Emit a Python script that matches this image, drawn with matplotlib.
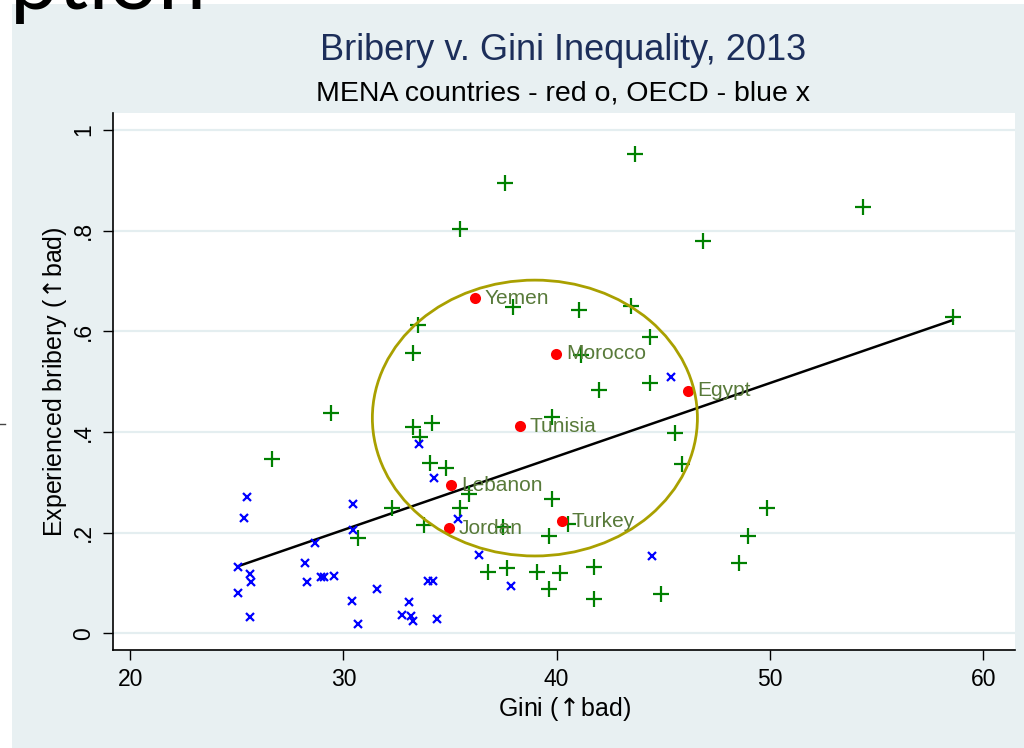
import matplotlib
matplotlib.use("Agg")
import matplotlib.pyplot as plt
from matplotlib.patches import Ellipse, Rectangle
from matplotlib.lines import Line2D

plt.rcParams['font.family'] = ['Liberation Sans', 'DejaVu Sans']
plt.rcParams['mathtext.fontset'] = 'dejavusans'

# ---- data ----
mena_names = ["Yemen", "Morocco", "Egypt", "Tunisia", "Lebanon", "Jordan", "Turkey"]
mena_gini = [36.18, 39.98, 46.15, 38.26, 35.05, 34.94, 40.26]
mena_bribe = [0.666, 0.556, 0.482, 0.412, 0.294, 0.209, 0.223]

oecd_gini = [45.38, 33.57, 34.27, 35.36, 36.38, 44.48, 37.88, 33.96, 34.19, 33.07,
             32.76, 33.18, 33.25, 34.38, 25.47, 25.36, 30.47, 30.47, 28.68, 25.08,
             28.18, 25.60, 25.68, 28.96, 29.11, 29.58, 28.28, 25.08, 31.57, 30.39,
             25.60, 30.67]
oecd_bribe = [0.510, 0.376, 0.308, 0.227, 0.155, 0.154, 0.095, 0.105, 0.105, 0.062,
              0.037, 0.035, 0.024, 0.029, 0.272, 0.229, 0.257, 0.206, 0.179, 0.133,
              0.141, 0.118, 0.103, 0.113, 0.113, 0.115, 0.102, 0.080, 0.088, 0.065,
              0.032, 0.018]

other_gini = [43.69, 37.60, 35.49, 54.38, 46.88, 58.57, 37.94, 41.07, 43.49, 33.49,
              44.38, 33.25, 41.15, 44.38, 41.97, 39.77, 33.25, 34.16, 33.60, 45.57,
              34.08, 34.79, 45.87, 35.88, 39.77, 32.27, 35.48, 33.76, 37.47, 40.52,
              39.66, 36.77, 37.66, 39.08, 40.18, 41.77, 39.66, 41.77, 44.87, 26.66,
              30.67, 49.87, 48.96, 48.57, 29.40]
other_bribe = [0.952, 0.895, 0.803, 0.847, 0.780, 0.629, 0.649, 0.642, 0.651, 0.613,
               0.589, 0.557, 0.553, 0.498, 0.484, 0.431, 0.411, 0.419, 0.390, 0.399,
               0.338, 0.328, 0.337, 0.277, 0.267, 0.249, 0.249, 0.216, 0.211, 0.217,
               0.194, 0.122, 0.131, 0.123, 0.121, 0.133, 0.088, 0.068, 0.078, 0.346,
               0.189, 0.249, 0.194, 0.141, 0.438]

fit_intercept = -0.232
fit_slope = 0.01459
fit_range = [25.08, 58.57]

ellipse_center = (38.98, 0.428)
ellipse_size = (15.24, 0.548)

x_ticks = [20, 30, 40, 50, 60]
y_ticks = [0, 0.2, 0.4, 0.6, 0.8, 1.0]
y_ticklabels = ["0", ".2", ".4", ".6", ".8", "1"]

title = "Bribery v. Gini Inequality, 2013"
subtitle = "MENA countries - red o, OECD - blue x"
xlabel = "Gini ($\\!\\uparrow\\!$bad)"
ylabel = "Experienced bribery ($\\!\\uparrow\\!$bad)"

# ---- figure ----
W, H = 1024, 748
fig = plt.figure(figsize=(W / 100, H / 100), dpi=100, facecolor='white')
bg = '#E8F0F2'
fig.add_artist(Rectangle((12 / W, 0), 1 - 12 / W, 1 - 4 / H, transform=fig.transFigure,
                         facecolor=bg, edgecolor='none', zorder=-10))
fig.text(10 / W, 1 - 9 / H, "ption", fontsize=62, family='Lato', color='black',
         ha='left', va='baseline')
fig.add_artist(Line2D([0, 5 / W], [1 - 424 / H, 1 - 424 / H], transform=fig.transFigure,
                      color='#444444', lw=1))

ax = fig.add_axes([113 / W, 1 - 650 / H, (1015 - 113) / W, (650 - 113) / H])
ax.set_facecolor('white')
ax.set_xlim(19.2, 61.49)
ax.set_ylim(-0.0328, 1.034)

for s in ['top', 'right']:
    ax.spines[s].set_visible(False)
for s in ['left', 'bottom']:
    ax.spines[s].set_color('black')
    ax.spines[s].set_linewidth(1.2)

ax.set_yticks(y_ticks)
ax.set_yticklabels(y_ticklabels, rotation=90, va='center')
ax.set_xticks(x_ticks)
ax.tick_params(axis='both', direction='out', length=7, width=1, labelsize=16.5, colors='black')
ax.tick_params(axis='x', pad=6)
ax.tick_params(axis='y', pad=6)
ax.yaxis.grid(True, color='#E4EEF0', lw=1.6)
ax.set_axisbelow(True)

# regression line
xs = fit_range
ys = [fit_intercept + fit_slope * x for x in xs]
ax.plot(xs, ys, color='black', lw=1.8, zorder=3)

ax.plot(other_gini, other_bribe, linestyle='none', marker='+', color='#008000',
        markersize=11, mew=1.6, zorder=4)
ax.plot(oecd_gini, oecd_bribe, linestyle='none', marker='x', color='#0000FF',
        markersize=6, mew=1.6, zorder=4)
ax.plot(mena_gini, mena_bribe, linestyle='none', marker='o', color='#FF0000',
        markersize=8, mew=0, zorder=5)
for n, x, y in zip(mena_names, mena_gini, mena_bribe):
    ax.annotate(n, (x, y), xytext=(7, 0), textcoords='offset points', ha='left',
                va='center', fontsize=15, color='#587A3A', zorder=6)

ax.add_patch(Ellipse(ellipse_center, ellipse_size[0], ellipse_size[1], fill=False,
                     edgecolor='#A9A000', lw=2, zorder=6))

ax.set_xlabel(xlabel, fontsize=18, labelpad=3)
ax.set_ylabel(ylabel, fontsize=18, labelpad=2)

fig.text(563 / W, 1 - 50 / H, title, fontsize=26, color='#1C2E5A', ha='center', va='center')
fig.text(563 / W, 1 - 93 / H, subtitle, fontsize=20.5, color='black', ha='center', va='center')

fig.savefig("out.png", dpi=100, facecolor=fig.get_facecolor())
